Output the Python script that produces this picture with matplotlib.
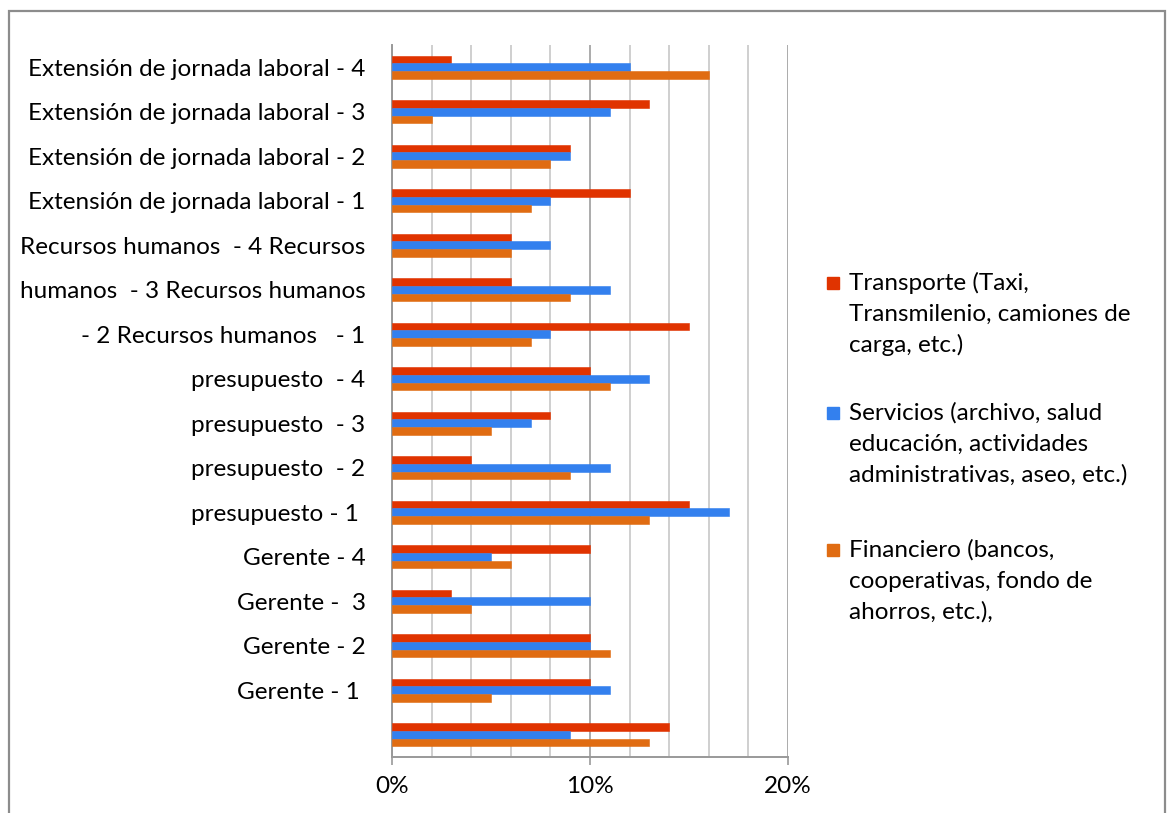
import numpy as np
import matplotlib.pyplot as plt
from matplotlib.patches import Rectangle
from matplotlib.ticker import MultipleLocator, FuncFormatter

plt.rcParams['font.family'] = ['Lato', 'DejaVu Sans']

# categories listed bottom to top (first row has no label)
categorias = [
    "",
    "Gerente - 1 ",
    "Gerente - 2",
    "Gerente -  3",
    "Gerente - 4",
    "presupuesto - 1 ",
    "presupuesto  - 2",
    "presupuesto  - 3",
    "presupuesto  - 4",
    "- 2 Recursos humanos   - 1",
    "humanos  - 3 Recursos humanos",
    "Recursos humanos  - 4 Recursos",
    "Extensión de jornada laboral - 1",
    "Extensión de jornada laboral - 2",
    "Extensión de jornada laboral - 3",
    "Extensión de jornada laboral - 4",
]

transporte = [14, 10, 10, 3, 10, 15, 4, 8, 10, 15, 6, 6, 12, 9, 13, 3]
servicios = [9, 11, 10, 10, 5, 17, 11, 7, 13, 8, 11, 8, 8, 9, 11, 12]
financiero = [13, 5, 11, 4, 6, 13, 9, 5, 11, 7, 9, 6, 7, 8, 2, 16]

series = [
    ("Transporte (Taxi,\nTransmilenio, camiones de\ncarga, etc.)", transporte, "#E03300"),
    ("Servicios (archivo, salud\neducación, actividades\nadministrativas, aseo, etc.)", servicios, "#3380EE"),
    ("Financiero (bancos,\ncooperativas, fondo de\nahorros, etc.),", financiero, "#E06C12"),
]

FS = 17.5

fig = plt.figure(figsize=(11.68, 8.13), dpi=100)
W, H = 1168, 813

# outer chart frame
fig.patches.append(Rectangle((9 / W, -0.05), (1165 - 9) / W, 1.05 - 11 / H,
                             transform=fig.transFigure, fill=False,
                             edgecolor="#8c8c8c", linewidth=1.6))

ax = fig.add_axes([392 / W, 1 - 757 / H, (788 - 392) / W, (757 - 45) / H])

y = np.arange(len(categorias))
h = 0.17
for k, (nombre, vals, color) in enumerate(series):
    ax.barh(y + (1 - k) * h, vals, height=h, color=color,
            edgecolor=color, linewidth=0.4, zorder=3)

ax.set_xlim(0, 20)
ax.set_ylim(-0.5, len(categorias) - 0.5)
ax.set_yticks(y)
ax.set_yticklabels(categorias, fontsize=FS)
ax.tick_params(axis='y', length=0, pad=19)

ax.xaxis.set_major_locator(MultipleLocator(10))
ax.xaxis.set_minor_locator(MultipleLocator(2))
ax.xaxis.set_major_formatter(FuncFormatter(lambda v, p: f"{v:.0f}%"))
ax.tick_params(axis='x', which='major', labelsize=FS, length=6, width=1.2,
               color="#999999", pad=8)
ax.tick_params(axis='x', which='minor', length=0)
ax.grid(axis='x', which='minor', color="#cfcfcf", linewidth=1.4, zorder=0)
ax.grid(axis='x', which='major', color="#ababab", linewidth=1.4, zorder=0)

for s in ['top', 'right']:
    ax.spines[s].set_visible(False)
for s in ['left', 'bottom']:
    ax.spines[s].set_color("#999999")
    ax.spines[s].set_linewidth(1.4)

# legend drawn on the right, key aligned with the first line of each entry
first_lines = [283, 413, 550]
pitch = 31
for (nombre, vals, color), y0 in zip(series, first_lines):
    fig.patches.append(Rectangle((827 / W, 1 - (y0 + 6) / H), 12 / W, 12 / H,
                                 transform=fig.transFigure, color=color))
    for j, linea in enumerate(nombre.split("\n")):
        fig.text(849 / W, 1 - (y0 + j * pitch) / H, linea, fontsize=FS,
                 va='center', ha='left')

fig.savefig("out.png", dpi=100)
